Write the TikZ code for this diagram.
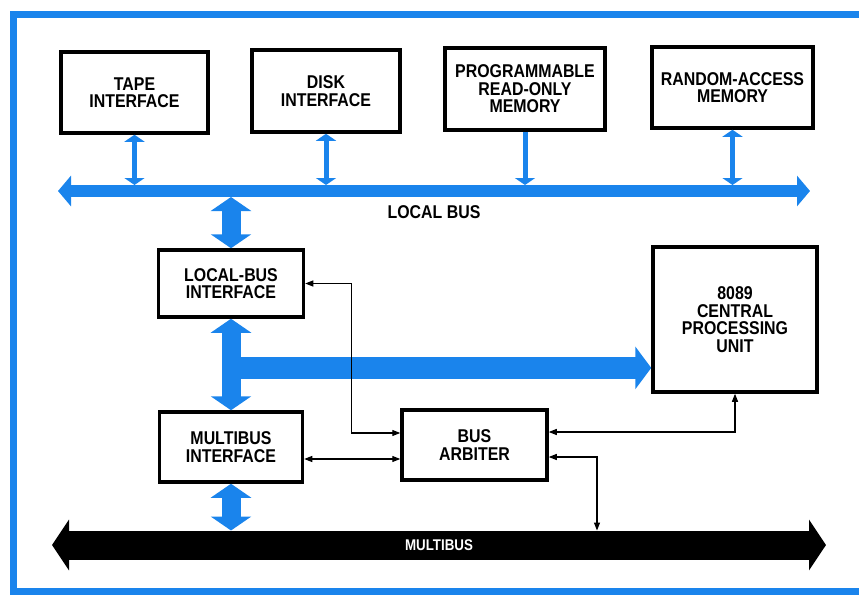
\documentclass[tikz,border=0pt]{standalone}
\usepackage{fontspec}
\newfontfamily\diagfont{Liberation Sans}[FakeStretch=0.86]
\usetikzlibrary{arrows.meta,calc}
\definecolor{busblue}{RGB}{26,132,236}

\begin{document}
\begin{tikzpicture}[x=1pt,y=-1pt,>={Triangle[length=8pt,width=6pt]},
  unit/.style={draw,line width=3.5pt,align=center,inner sep=2pt,font=\diagfont\bfseries\fontsize{18.5}{17.5}\selectfont},
  sig/.style={<->,line width=1.2pt},
  tap/.style={busblue,line width=5pt,{Triangle[length=7pt,width=20pt]}-{Triangle[length=7pt,width=20pt]}},
  fat/.style={busblue,line width=19pt,{Triangle[length=14pt,width=40pt]}-{Triangle[length=14pt,width=40pt]}}]
\useasboundingbox (0,0) rectangle (859,595);
\draw[busblue,line width=7pt] (13.5,14.5) rectangle (880,591);

% boards on the local bus
\node[unit,minimum width=147pt,minimum height=81pt] (tape) at (134.5,92.5) {TAPE\\INTERFACE};
\node[unit,minimum width=148pt,minimum height=82pt] (disk) at (326,91) {DISK\\INTERFACE};
\node[unit,minimum width=160pt,minimum height=82pt] (prom) at (525,89) {PROGRAMMABLE\\READ-ONLY\\MEMORY};
\node[unit,minimum width=161pt,minimum height=81pt] (ram) at (732.5,87.5) {RANDOM-ACCESS\\MEMORY};

% bus interfaces, arbiter and processor
\node[unit,minimum width=145pt,minimum height=67pt] (lbi) at (231,283.5) {LOCAL-BUS\\INTERFACE};
\node[unit,minimum width=143pt,minimum height=70pt] (mbi) at (231,447) {MULTIBUS\\INTERFACE};
\node[unit,minimum width=145pt,minimum height=70pt] (arb) at (474.5,445) {BUS\\ARBITER};
\node[unit,minimum width=164pt,minimum height=145pt] (cpu) at (735,319.5) {8089\\CENTRAL\\PROCESSING\\UNIT};

\coordinate (lbL) at (58,191); \coordinate (lbR) at (810,191);
\coordinate (lbtop) at (0,185); \coordinate (lbbot) at (0,197);
\coordinate (mbL) at (52,545); \coordinate (mbR) at (826,545);
\coordinate (mbtop) at (0,530.5); \coordinate (mbtap) at (597,530.5);

% local bus
\draw[busblue,line width=12pt,{Triangle[length=13pt,width=30pt]}-{Triangle[length=13pt,width=30pt]}] (lbL) -- node[yshift=-21pt,text=black,font=\diagfont\bfseries\fontsize{18.5}{17.5}\selectfont]{LOCAL BUS} (lbR);
\foreach \n in {tape,disk,ram}
  \draw[tap] (\n.south) -- (\n.south |- lbtop);
\draw[busblue,line width=5pt,-{Triangle[length=7pt,width=20pt]}] (prom.south) -- (prom.south |- lbtop);

% wide data paths
\draw[fat] (lbi.north |- lbbot) -- (lbi.north);
\draw[fat] (lbi.south) -- (mbi.north);
\path ($(lbi.south)!0.537!(mbi.north)$) coordinate (branch);
\draw[busblue,line width=22pt,-{Triangle[length=16pt,width=42pt]}] (branch) -- (branch -| cpu.west);
\draw[fat] (mbi.south) -- (mbi.south |- mbtop);

% multibus
\draw[line width=29pt,{Triangle[length=17pt,width=50pt]}-{Triangle[length=17pt,width=50pt]}] (mbL) -- node[text=white,font=\diagfont\bfseries\fontsize{15.5}{15}\selectfont]{MULTIBUS} (mbR);

% control lines
\draw[sig] (lbi.east) -| ($(arb.west)+(-49,-12)$) -- ($(arb.west)+(0,-12)$);
\draw[sig] ($(mbi.east)+(0,12)$) -- ($(arb.west)+(0,14)$);
\draw[sig] ($(arb.east)+(0,-13)$) -| (cpu.south);
\draw[sig] ($(arb.east)+(0,12)$) -| (mbtap);
\end{tikzpicture}
\end{document}
